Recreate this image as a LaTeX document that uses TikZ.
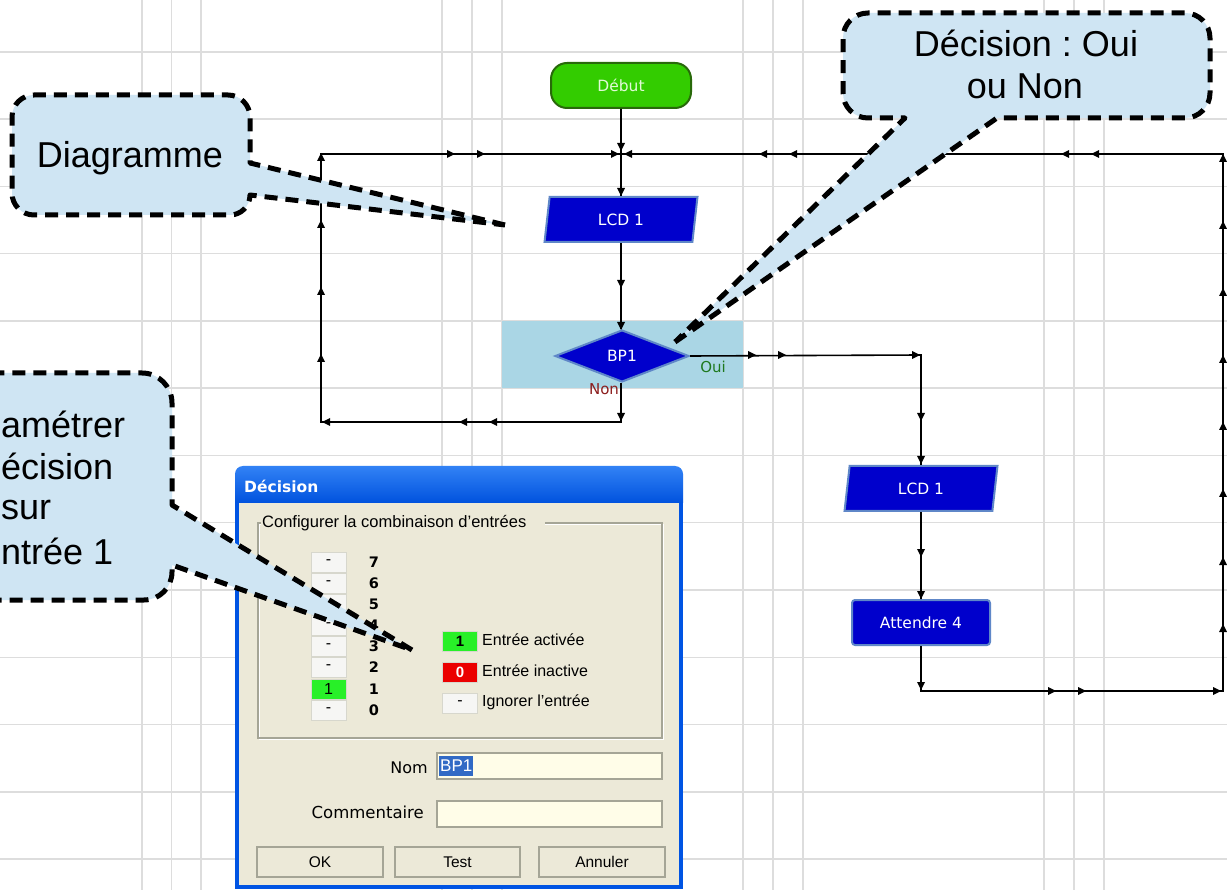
\documentclass[tikz,border=0pt]{standalone}
\usepackage{fontspec}
\setmainfont{Liberation Sans}
\newfontfamily\vfont{DejaVu Sans}
\usetikzlibrary{shapes.geometric}
\frenchspacing
\definecolor{gridc}{RGB}{221,221,221}
\definecolor{calfill}{RGB}{207,229,243}
\definecolor{hilite}{RGB}{170,214,229}
\definecolor{fblue}{RGB}{0,0,204}
\definecolor{fedge}{RGB}{95,135,200}
\definecolor{fgreen}{RGB}{51,204,0}
\definecolor{fgreenE}{RGB}{40,105,10}
\definecolor{debtxt}{RGB}{225,250,215}
\definecolor{ouic}{RGB}{30,120,30}
\definecolor{nonc}{RGB}{140,30,30}
\definecolor{dlgbg}{RGB}{236,233,216}
\definecolor{winblue}{RGB}{0,84,227}
\definecolor{tbtop}{RGB}{50,130,245}
\definecolor{tbbot}{RGB}{0,82,222}
\definecolor{bitbg}{RGB}{246,246,244}
\definecolor{bitgreen}{RGB}{40,240,40}
\definecolor{bitred}{RGB}{235,0,0}
\definecolor{fieldbg}{RGB}{255,253,232}
\definecolor{selblue}{RGB}{49,106,197}
\definecolor{edgeg}{RGB}{165,165,150}
\definecolor{edgel}{RGB}{215,215,205}
\newcommand\ahR[2]{\fill (#1,#2) -- ++(-8,-4) -- ++(0,8) -- cycle;}
\newcommand\ahL[2]{\fill (#1,#2) -- ++(8,-4) -- ++(0,8) -- cycle;}
\newcommand\ahD[2]{\fill (#1,#2) -- ++(-4,-8) -- ++(8,0) -- cycle;}
\newcommand\ahU[2]{\fill (#1,#2) -- ++(-4,8) -- ++(8,0) -- cycle;}
\tikzset{
  flow/.style={line width=1.6pt, black},
  block/.style={draw=fedge, line width=2pt, fill=fblue, text=white, inner sep=0pt,
     font=\vfont\fontsize{15.5}{18}\selectfont},
  para/.style={block, trapezium, trapezium left angle=82, trapezium right angle=98,
     trapezium stretches=true, minimum width=153pt, minimum height=45pt},
  cal/.style={fill=calfill, draw=black, line width=5pt, dash pattern=on 13pt off 8pt, line join=round},
  caltext/.style={font=\fontsize{36}{42}\selectfont, inner sep=0pt},
  dlgtext/.style={font=\fontsize{16}{19}\selectfont, inner sep=0pt},
  bitbox/.style={draw=edgel, fill=bitbg, minimum width=35pt, minimum height=20pt, inner sep=0pt,
     font=\fontsize{16}{18}\selectfont},
  bitlbl/.style={font=\vfont\bfseries\fontsize{14.5}{17}\selectfont, inner sep=0pt},
  field/.style={fill=fieldbg, draw=edgeg, line width=1.5pt, minimum width=225pt, minimum height=26pt, inner sep=0pt},
  btn/.style={fill=dlgbg, draw=edgeg, line width=1.5pt, minimum height=30pt, inner sep=0pt,
     font=\fontsize{15.5}{18}\selectfont},
}
\begin{document}
\begin{tikzpicture}[x=1pt,y=-1pt]
\useasboundingbox (0,0) rectangle (1227,890);
\clip (0,0) rectangle (1227,890);
\fill[white] (0,0) rectangle (1227,890);
% grid
\foreach \gy in {0,...,12} {\draw[gridc, line width=1.5pt] (0,{52+67.25*\gy}) -- (1227,{52+67.25*\gy});}
\foreach \gx in {142,171.5,201,442,472,502,743,773,803,1044,1074,1104} {\draw[gridc, line width=1.5pt] (\gx,0) -- (\gx,890);}
% selection highlight
\fill[hilite] (502,321) rectangle (743,388);
% flowchart nodes
\node[draw=fgreenE, line width=2pt, fill=fgreen, rounded corners=16pt, minimum width=140pt, minimum height=45pt,
      text=debtxt, font=\vfont\fontsize{15.5}{18}\selectfont] (debut) at (621,85.5) {Début};
\node[para] (lcdA) at (621,219.5) {LCD 1};
\node[block, diamond, aspect=2.6, minimum width=134pt, minimum height=52pt] (bp1) at (622,356) {BP1};
\node[para] (lcdB) at (921,488.5) {LCD 1};
\node[block, rounded corners=3pt, minimum width=138pt, minimum height=45pt] (att) at (921,622.5) {Attendre 4};
\node[font=\vfont\fontsize{15}{18}\selectfont, text=ouic, inner sep=0pt] (oui) at (713,367) {Oui};
\node[font=\vfont\fontsize{15}{18}\selectfont, text=nonc, inner sep=0pt] (non) at (604,389) {Non};
% connector corners
\coordinate (j) at (621,154);
\coordinate (cN) at (621,422);
\coordinate (cBL) at (321,422);
\coordinate (cTL) at (321,154);
\coordinate (cR) at (921,355);
\coordinate (cB1) at (921,691);
\coordinate (cB2) at (1223,691);
\coordinate (cTR) at (1223,154);
% connectors
\draw[flow] (debut) -- (j) -- (lcdA);
\draw[flow] (lcdA) -- (lcdA |- bp1.north);
\draw[flow] (bp1.south -| cN) -- (cN) -- (cBL) -- (cTL) -- (j);
\draw[flow] (bp1.east) -- (cR) -- (lcdB);
\draw[flow] (lcdB) -- (att);
\draw[flow] (att) -- (cB1) -- (cB2) -- (cTR) -- (j);
% arrowheads
\foreach \ax in {455,485,619} {\ahR{\ax}{154}}
\foreach \ax in {624,759,789,1061,1091} {\ahL{\ax}{154}}
\foreach \ay in {151,196,288,330} {\ahD{621}{\ay}}
\ahD{621}{421}
\foreach \ax in {322,459,489} {\ahL{\ax}{422}}
\foreach \ay in {153,220,287,354} {\ahU{321}{\ay}}
\foreach \ax in {756,786,920} {\ahR{\ax}{355}}
\foreach \ay in {421,464,557,599,690} {\ahD{921}{\ay}}
\foreach \ax in {1056,1086,1221} {\ahR{\ax}{691}}
\foreach \ay in {154,221,288,355,422,489,557,624} {\ahU{1223}{\ay}}
% dialog window
\fill[dlgbg] (237,503) rectangle (681,886);
\fill[winblue] (235,503) rectangle (239,889);
\fill[winblue] (679,503) rectangle (683,889);
\fill[winblue] (235,885) rectangle (683,889);
\shade[top color=tbtop, bottom color=tbbot] (235,503) -- (235,474) arc[start angle=180,end angle=270,radius=8]
   -- (675,466) arc[start angle=270,end angle=360,radius=8] -- (683,503) -- cycle;
\node[anchor=base west, text=white, font=\vfont\bfseries\fontsize{15.5}{18}\selectfont, inner sep=0pt] (title) at (244,493) {Décision};
% group box
\draw[white, line width=1.2pt] (259.5,524.5) rectangle (663.5,739.5);
\draw[edgeg, line width=1.2pt] (258,523) rectangle (662,738);
\fill[dlgbg] (261,516) rectangle (545,530);
\node[dlgtext, anchor=west, font=\fontsize{16.5}{19}\selectfont] (grp) at (262,523) {Configurer la combinaison d'entrées};
% input bits
\foreach \i/\by in {7/552,6/573,5/594,4/615,3/636,2/657,0/700} {
  \node[bitbox] (bit\i) at (328.5,{\by+10}) {-};
  \node[bitlbl] (lbl\i) at (374,{\by+10}) {\i};
}
\node[bitbox, fill=bitgreen] (bit1) at (328.5,689) {1};
\node[bitlbl] (lbl1) at (374,689) {1};
% legend
\node[bitbox, fill=bitgreen, font=\bfseries\fontsize{15}{17}\selectfont] (lg1) at (460,641) {1};
\node[dlgtext, anchor=west] (lgt1) at (482,640) {Entrée activée};
\node[bitbox, fill=bitred, text=white, font=\bfseries\fontsize{15}{17}\selectfont] (lg0) at (460,672) {0};
\node[dlgtext, anchor=west] (lgt0) at (482,671) {Entrée inactive};
\node[bitbox] (lgx) at (460,703) {-};
\node[dlgtext, anchor=west] (lgtx) at (482,702) {Ignorer l'entrée};
% name and comment
\node[anchor=east, font=\vfont\fontsize{16}{19}\selectfont, inner sep=0pt] (nomL) at (428,768) {Nom};
\node[field] (nomF) at (549.5,766) {};
\node[anchor=west, fill=selblue, text=white, font=\fontsize{17}{20}\selectfont, inner xsep=1pt, inner ysep=0pt,
      minimum height=20pt] (nomV) at (439,766) {BP1};
\node[anchor=east, font=\vfont\fontsize{16.5}{19}\selectfont, inner sep=0pt] (comL) at (424,812) {Commentaire};
\node[field] (comF) at (549.5,814) {};
% buttons
\node[btn, minimum width=126pt] (ok) at (320,862) {OK};
\node[btn, minimum width=125pt] (test) at (457.5,862) {Test};
\node[btn, minimum width=126pt] (ann) at (602,862) {Annuler};
% callouts
\draw[cal] (505,225) -- (250,163) -- (250,117) arc[start angle=0,end angle=-90,radius=22]
   -- (34,95) arc[start angle=270,end angle=180,radius=22]
   -- (12,193) arc[start angle=180,end angle=90,radius=22]
   -- (230,215) arc[start angle=90,end angle=0,radius=20] -- cycle;
\node[caltext, anchor=base] (c1) at (130,168) {Diagramme};
\draw[cal] (675,342) -- (997,118) -- (1185,118) arc[start angle=90,end angle=0,radius=25]
   -- (1210,38) arc[start angle=0,end angle=-90,radius=25]
   -- (868,13) arc[start angle=270,end angle=180,radius=25]
   -- (843,93) arc[start angle=180,end angle=90,radius=25] -- (905,118) -- cycle;
\node[caltext, anchor=base] (c2a) at (1026,57) {Décision : Oui};
\node[caltext, anchor=base] (c2b) at (1025,99) {ou Non};
\draw[cal] (412,650) -- (172,505) -- (172,403) arc[start angle=0,end angle=-90,radius=30]
   -- (-100,373) -- (-100,600) -- (144,600) arc[start angle=90,end angle=0,radius=28] -- (172,565) -- cycle;
\node[caltext, anchor=base west] (c3a) at (1,438) {amétrer};
\node[caltext, anchor=base west] (c3b) at (1,480) {écision};
\node[caltext, anchor=base west] (c3c) at (1,520) {sur};
\node[caltext, anchor=base west] (c3d) at (1,564) {ntrée 1};
\end{tikzpicture}
\end{document}
